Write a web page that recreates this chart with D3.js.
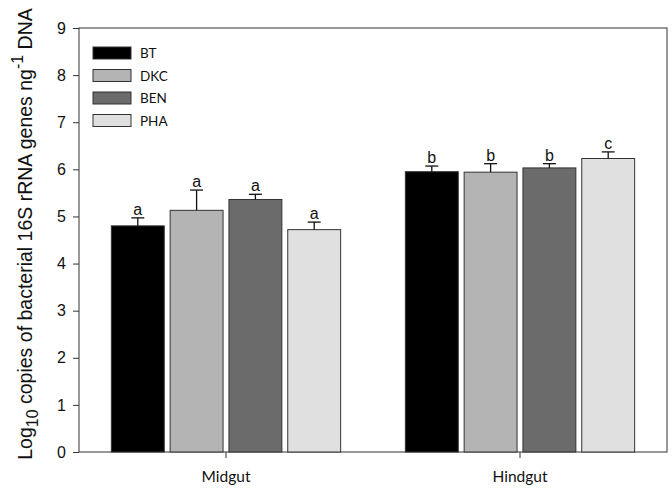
<!DOCTYPE html>
<html>
<head>
<meta charset="utf-8">
<script src="https://cdn.jsdelivr.net/npm/d3@7"></script>
<style>
  body { margin: 0; background: #fff; }
  svg text { fill: #111; }
</style>
</head>
<body>
<div id="chart"></div>
<script>
const width = 672
const height = 493
const margin = { top: 28, right: 5, bottom: 41, left: 79 }

const sites = ["Midgut", "Hindgut"]
const treatments = ["BT", "DKC", "BEN", "PHA"]
const colors = ["#000000", "#b4b4b4", "#6b6b6b", "#e0e0e0"]
// means per site, in treatment order
const means = [
    [4.80, 5.13, 5.36, 4.72],
    [5.95, 5.94, 6.03, 6.23]
]
const errors = [
    [0.17, 0.43, 0.11, 0.16],
    [0.12, 0.18, 0.09, 0.14]
]
const letters = [
    ["a", "a", "a", "a"],
    ["b", "b", "b", "c"]
]
const yTicks = [0, 1, 2, 3, 4, 5, 6, 7, 8, 9]

const svg = d3.select("#chart").append("svg")
    .attr("width", width)
    .attr("height", height)

const plotW = width - margin.left - margin.right
const plotH = height - margin.top - margin.bottom

const x0 = d3.scaleBand().domain(sites).range([margin.left, margin.left + plotW]).paddingInner(0.22).paddingOuter(0.11)
const x1 = d3.scaleBand().domain(treatments).range([0, x0.bandwidth()]).paddingInner(0.1)
const y = d3.scaleLinear().domain([0, 9]).range([margin.top + plotH, margin.top])

const data = []
sites.forEach((s, i) => treatments.forEach((t, j) => {
    data.push({ site: s, trt: t, color: colors[j], mean: means[i][j], err: errors[i][j], letter: letters[i][j] })
}))

// frame
svg.append("rect")
    .attr("x", margin.left)
    .attr("y", margin.top)
    .attr("width", plotW)
    .attr("height", plotH)
    .attr("fill", "none")
    .attr("stroke", "#333")
    .attr("stroke-width", 1)

// bars
svg.selectAll(".bar")
    .data(data)
    .enter()
    .append("rect")
    .attr("class", "bar")
    .attr("x", d => x0(d.site) + x1(d.trt))
    .attr("y", d => y(d.mean))
    .attr("width", x1.bandwidth())
    .attr("height", d => y(0) - y(d.mean))
    .attr("fill", d => d.color)
    .attr("stroke", "#333")
    .attr("stroke-width", 1)

const cx = d => x0(d.site) + x1(d.trt) + x1.bandwidth() / 2

// error bars (upper only)
svg.selectAll(".err")
    .data(data)
    .enter()
    .append("line")
    .attr("x1", cx).attr("x2", cx)
    .attr("y1", d => y(d.mean))
    .attr("y2", d => y(d.mean + d.err))
    .attr("stroke", "#111")
    .attr("stroke-width", 1.3)
svg.selectAll(".cap")
    .data(data)
    .enter()
    .append("line")
    .attr("x1", d => cx(d) - 6.5).attr("x2", d => cx(d) + 6.5)
    .attr("y1", d => y(d.mean + d.err))
    .attr("y2", d => y(d.mean + d.err))
    .attr("stroke", "#111")
    .attr("stroke-width", 1.3)

svg.selectAll(".letter")
    .data(data)
    .enter()
    .append("text")
    .text(d => d.letter)
    .attr("x", cx)
    .attr("y", d => y(d.mean + d.err) - 3)
    .attr("text-anchor", "middle")
    .style("font-family", "Liberation Sans, Arial, sans-serif")
    .style("font-size", "16px")

// y axis
const yAxis = svg.append("g")
    .attr("transform", `translate(${margin.left},0)`)
    .call(d3.axisLeft(y).tickValues(yTicks).tickSize(6).tickSizeOuter(0))
yAxis.select(".domain").remove()
yAxis.selectAll("line").attr("stroke", "#333")
yAxis.selectAll("text")
    .attr("x", -13)
    .style("font-family", "Liberation Sans, Arial, sans-serif")
    .style("font-size", "16px")
    .style("fill", "#111")

// x axis
const xAxis = svg.append("g")
    .attr("transform", `translate(0,${margin.top + plotH})`)
    .call(d3.axisBottom(x0).tickSize(6).tickSizeOuter(0))
xAxis.select(".domain").remove()
xAxis.selectAll("line").attr("stroke", "#333")
xAxis.selectAll("text")
    .attr("y", 19)
    .style("font-family", "Lato, Open Sans, sans-serif")
    .style("font-size", "15.5px")
    .style("fill", "#111")

// y title
const title = svg.append("text")
    .attr("transform", `translate(32,${margin.top + plotH / 2 - 6}) rotate(-90)`)
    .attr("text-anchor", "middle")
    .style("font-family", "Liberation Sans, Arial, sans-serif")
    .style("font-size", "19.5px")
title.append("tspan").text("Log")
title.append("tspan").text("10").attr("dy", 6).style("font-size", "16px")
title.append("tspan").text(" copies of bacterial 16S rRNA genes ng").attr("dy", -6)
title.append("tspan").text("-1").attr("dy", -9).style("font-size", "16px")
title.append("tspan").text(" DNA").attr("dy", 9)

// legend
const legend = svg.append("g").attr("transform", "translate(93,47)")
treatments.forEach((t, i) => {
    const g = legend.append("g").attr("transform", `translate(0,${i * 22.5})`)
    g.append("rect")
        .attr("width", 38).attr("height", 12)
        .attr("fill", colors[i])
        .attr("stroke", "#333")
    g.append("text")
        .text(t)
        .attr("x", 47).attr("y", 11)
        .style("font-family", "Lato, Open Sans, sans-serif")
        .style("font-size", "13.5px")
})
</script>
</body>
</html>
